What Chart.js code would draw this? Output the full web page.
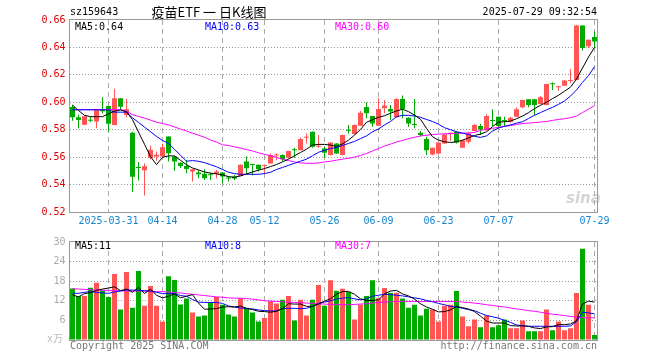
<!DOCTYPE html>
<html lang="zh-CN">
<head>
<meta charset="utf-8">
<title>疫苗ETF 日K线图</title>
<script src="https://cdn.jsdelivr.net/npm/chart.js@4.4.1/dist/chart.umd.min.js"></script>
<style>
  body { margin: 0; width: 660px; height: 360px; position: relative; overflow: hidden; background: #fff; font: 10px "DejaVu Sans Mono", monospace; color: #000; }
  canvas { position: absolute; left: 0; }
  #kline { top: 0; }
  #volume { top: 232px; }
  .txt { position: absolute; white-space: pre; line-height: 12px; }
</style>
</head>
<body>
<canvas id="kline" width="660" height="232"></canvas>
<canvas id="volume" width="660" height="128"></canvas>

<div class="txt" style="left:70px;top:6px">sz159643</div>
<div class="txt" style="left:139px;top:5px;width:140px;text-align:center;font:13px 'Noto Sans CJK SC';line-height:14px">疫苗ETF 一 日K线图</div>
<div class="txt" style="right:63px;top:6px">2025-07-29 09:32:54</div>
<div class="txt" style="left:75px;top:21px">MA5:0.64</div>
<div class="txt" style="left:205px;top:21px;color:#0000ff">MA10:0.63</div>
<div class="txt" style="left:335px;top:21px;color:#ff00ff">MA30:0.60</div>
<div class="txt" style="left:566px;top:189px;font:italic bold 15px 'DejaVu Sans';color:rgba(170,170,170,0.5)">sina</div>
<div class="txt" style="left:75px;top:240px">MA5:11</div>
<div class="txt" style="left:205px;top:240px;color:#0000ff">MA10:8</div>
<div class="txt" style="left:335px;top:240px;color:#ff00ff">MA30:7</div>
<div class="txt" style="left:47px;top:333px;color:#bbb">x万</div>
<div class="txt" style="left:70px;top:340px;color:#777">Copyright 2025 SINA.COM</div>
<div class="txt" style="right:63px;top:340px;color:#777">http://finance.sina.com.cn</div>

<script>
// trading days, 2025-03-21 .. 2025-07-29
const days = ['03-21','03-24','03-25','03-26','03-27','03-28','03-31',
  '04-01','04-02','04-03','04-07','04-08','04-09','04-10','04-11','04-14','04-15','04-16','04-17','04-18',
  '04-21','04-22','04-23','04-24','04-25','04-28','04-29','04-30',
  '05-06','05-07','05-08','05-09','05-12','05-13','05-14','05-15','05-16','05-19','05-20','05-21','05-22','05-23',
  '05-26','05-27','05-28','05-29','05-30',
  '06-03','06-04','06-05','06-06','06-09','06-10','06-11','06-12','06-13','06-16','06-17','06-18','06-19','06-20',
  '06-23','06-24','06-25','06-26','06-27','06-30',
  '07-01','07-02','07-03','07-04','07-07','07-08','07-09','07-10','07-11','07-14','07-15','07-16','07-17','07-18',
  '07-21','07-22','07-23','07-24','07-25','07-28','07-29']

const markedDays = ['03-31','04-14','04-28','05-12','05-26','06-09','06-23','07-07','07-29']
const markedText = ['2025-03-31','04-14','04-28','05-12','05-26','06-09','06-23','07-07','07-29']

const opens = [.5965,.589,.5836,.587,.586,.5945,.5973,.5834,.6029,.5907,
  .5777,.5525,.5504,.5593,.5605,.5605,.5751,.5605,.556,.5536,
  .5495,.5488,.5478,.547,.5478,.5488,.5446,.5458,.5463,.5568,
  .5544,.5544,.5536,.5554,.5612,.5615,.5595,.5653,.5651,.5741,
  .5785,.5676,.5663,.5615,.570,.5615,.5795,.5768,.5829,.5966,
  .590,.5829,.5956,.5951,.589,.6024,.5888,.5836,.5778,.5732,
  .5619,.5627,.570,.5771,.5785,.5668,.5712,.579,.5827,.5797,
  .5866,.5895,.5866,.5858,.5895,.5963,.6022,.6022,.5988,.598,
  .6134,.611,.612,.6156,.6163,.6559,.6408,.6476]
const highs = [.598,.591,.5902,.5895,.595,.6037,.5975,.6098,.6032,.6024,
  .5785,.5565,.5553,.5683,.5641,.5697,.5753,.5607,.5562,.558,
  .5514,.5507,.5512,.5488,.5507,.549,.5463,.547,.5546,.5605,
  .5546,.5546,.5543,.5627,.5627,.5622,.5646,.5668,.5744,.5773,
  .5787,.5761,.5675,.5709,.5702,.5763,.5834,.5839,.5937,.600,
  .5902,.6029,.6017,.598,.6029,.6049,.589,.6024,.579,.5749,
  .567,.5709,.5773,.5778,.579,.5726,.5785,.5841,.5841,.5912,
  .5949,.5897,.5895,.5895,.5963,.6019,.6024,.6024,.6046,.6136,
  .6144,.612,.6161,.6242,.6566,.6561,.6458,.6517]
const lows = [.5865,.581,.5832,.5855,.581,.592,.5785,.5832,.5944,.589,
  .5345,.543,.532,.5585,.5573,.5603,.5568,.550,.552,.5483,
  .5422,.5446,.5434,.5434,.5446,.541,.5422,.5434,.5461,.5483,
  .5468,.5495,.548,.5552,.5578,.557,.559,.5595,.565,.570,
  .5668,.5668,.5595,.5612,.5625,.5612,.5773,.5766,.5827,.5883,
  .5822,.5827,.592,.5871,.5888,.5883,.5822,.581,.5749,.5615,
  .5614,.562,.5698,.5717,.570,.5666,.570,.5788,.5761,.5795,
  .5827,.581,.5822,.5851,.5893,.5956,.5963,.5907,.5986,.5978,
  .609,.6085,.6118,.6139,.6161,.6378,.6395,.6395]
const closes = [.589,.587,.5898,.5866,.5946,.5935,.5843,.6029,.5968,.5949,
  .5457,.552,.5533,.5653,.5617,.5673,.5629,.5568,.5536,.5514,
  .5512,.5475,.5446,.5468,.5495,.5459,.5444,.5444,.5544,.5519,
  .5542,.5512,.5541,.5615,.5615,.5585,.5644,.565,.5732,.5744,
  .5676,.568,.5632,.5707,.5627,.5761,.5793,.5834,.5924,.592,
  .5846,.5951,.5976,.5932,.6024,.5951,.5846,.5834,.5761,.5651,
  .5668,.5707,.5766,.5773,.5707,.5724,.5773,.5834,.5802,.590,
  .5864,.5827,.5863,.5888,.5949,.6017,.598,.598,.6037,.6134,
  .6132,.6112,.6159,.6159,.6559,.6395,.6456,.6444]

const ma5 = [.598,.594,.5905,.5895,.5895,.5895,.5915,.5935,.5944,.5931,
  .5873,.5783,.5694,.5604,.5545,.5599,.5609,.5609,.5577,.5545,
  .5521,.5507,.5492,.5483,.5478,.547,.5458,.5453,.5463,.5478,
  .5492,.5505,.5517,.5531,.5546,.5566,.5585,.561,.5634,.5658,
  .5688,.5693,.5693,.5688,.5678,.5697,.5724,.5761,.5802,.5854,
  .5873,.589,.5902,.592,.5937,.5949,.5932,.5907,.5876,.581,
  .5749,.5724,.5712,.5707,.5712,.5724,.574,.5758,.5768,.5785,
  .5822,.5856,.5858,.5863,.588,.590,.5924,.5954,.5978,.600,
  .6027,.6051,.6081,.611,.617,.625,.633,.640]
const ma10 = [.5945,.5945,.5945,.5945,.5945,.5945,.5945,.5928,.5928,.5928,
  .5887,.5853,.5819,.5785,.5751,.5722,.570,.5657,.5614,.557,
  .5575,.557,.556,.5545,.553,.551,.549,.548,.5475,.5475,
  .5475,.5475,.548,.549,.551,.5525,.554,.5555,.557,.5585,
  .561,.5635,.565,.5663,.567,.5685,.570,.5715,.5735,.5755,
  .5785,.5805,.5835,.586,.5895,.5905,.5905,.590,.589,.5875,
  .586,.584,.5815,.580,.5785,.5775,.5765,.5752,.5744,.5755,
  .579,.5812,.5825,.5835,.5848,.5858,.5882,.5905,.5925,.5945,
  .5963,.5985,.601,.6045,.609,.6145,.6195,.626]
const ma30 = [.5947,.5947,.5947,.5947,.5947,.5947,.5947,.5947,.5947,.5935,
  .591,.5897,.5885,.587,.5855,.5845,.5835,.582,.5805,.579,
  .5775,.576,.5745,.5725,.571,.569,.5685,.5675,.5666,.5655,
  .5645,.5632,.562,.561,.5598,.5585,.5575,.5565,.5558,.5555,
  .5555,.5558,.5565,.557,.5578,.5585,.5592,.560,.5612,.5627,
  .5645,.5663,.568,.5695,.571,.5722,.5735,.5745,.5755,.576,
  .5765,.5768,.577,.5772,.5773,.5775,.5776,.578,.5795,.5805,
  .581,.5818,.5825,.583,.5838,.5845,.5848,.5852,.5856,.586,
  .5868,.5875,.588,.5888,.590,.5925,.595,.5975]

// volume in 万
const volumes = [15.8,13.5,13.5,16,17.5,15.2,13.2,20.2,9.3,20.8,
  9.9,21.1,10.5,16.5,10.5,5.7,19.5,18.4,10.9,12.7,
  8.4,7.2,7.5,11.6,13.2,10.8,7.8,7.2,12.8,9.9,
  8.4,5.7,6.7,11.9,11.2,12.3,13.5,6.0,12.3,7.5,
  12.3,16.8,10.5,18.3,15.1,15.7,14.7,6.3,10.8,13.5,
  18.3,12.8,15.9,14.5,14.5,12.7,9.9,10.8,7.5,9.6,
  9.3,5.7,10.5,10.8,15,7.2,4.2,6.3,3.9,7.5,
  3.9,4.5,6.3,3.6,3.6,6.0,2.7,2.7,2.7,9.3,
  3.0,5.7,3.0,3.6,14.4,27.9,10.8,1.5]
const volMa5 = [13.8,13.2,14.2,14.5,15.2,15.6,15.9,16.3,15.1,15.6,
  14.6,16.1,14.2,15.6,13.7,12.9,13.4,14.1,12.9,13.4,
  13.9,11.3,9.4,9.5,9.6,10.1,10.2,10.1,10.4,9.7,
  9.3,8.8,8.7,8.5,8.8,9.6,11.1,11.0,11.0,10.3,
  10.3,11.0,11.9,12.6,14.0,14.8,14.9,14.0,12.6,12.1,
  12.1,12.3,14.1,15.0,15.2,14.1,13.5,12.5,11.1,10.1,
  9.4,8.6,8.7,9.2,10.3,9.9,9.5,8.7,7.3,5.8,
  5.2,5.2,5.2,4.4,4.3,4.3,4.2,3.7,3.5,4.0,
  4.1,4.7,4.7,4.9,5.9,11.0,11.9,11.6]
const volMa10 = [14.3,14.3,14.6,14.8,14.6,14.4,14.3,14.7,15.0,15.3,
  15.3,15.2,15.1,15.0,14.6,14.2,14.2,14.2,13.6,13.4,
  12.4,11.6,11.5,11.5,11.5,11.2,10.4,10.1,9.8,9.6,
  9.5,9.2,9.0,8.9,8.9,9.6,9.7,9.7,9.6,9.7,
  10.3,11.2,11.6,12.0,12.5,12.8,13.0,12.6,12.3,12.6,
  13.4,13.7,14.0,13.9,13.7,13.5,13.2,12.9,12.6,12.1,
  11.7,11.2,10.8,10.3,10.1,9.7,9.3,9.0,8.2,7.5,
  7.1,6.7,6.0,5.4,4.6,4.4,4.2,4.2,4.2,4.2,
  4.2,4.2,4.2,4.3,5.6,8.5,8.3,8.0]
const volMa30 = [15.7,15.6,15.5,15.4,15.3,15.2,15.2,15.1,15.1,15.0,
  15.0,15.0,14.9,14.9,14.8,14.8,14.7,14.5,14.4,14.2,
  14.0,13.8,13.6,13.4,13.2,13.1,12.9,12.8,12.8,12.7,
  12.5,12.3,12.0,11.9,11.8,11.7,11.6,11.5,11.4,11.3,
  11.2,11.1,11.0,10.9,10.9,10.8,10.8,10.9,11.0,11.1,
  11.3,11.5,11.6,11.7,11.8,11.8,11.8,11.8,11.8,11.8,
  11.8,11.8,11.8,11.8,11.8,11.6,11.5,11.3,11.1,10.8,
  10.6,10.3,10.1,9.8,9.5,9.3,9.0,8.8,8.5,8.2,
  7.9,7.7,7.5,7.2,7.0,6.8,6.8,6.8]

const upColor = '#ff5555'
const downColor = '#00aa00'
const candleColors = opens.map((o, i) => closes[i] >= o ? upColor : downColor)

Chart.defaults.font.family = '"DejaVu Sans Mono", monospace'
Chart.defaults.font.size = 10

// gray box round the plot area
const framePlugin = {
  id: 'frame',
  afterDraw(chart) {
    const { ctx, chartArea: a } = chart
    ctx.save()
    ctx.strokeStyle = '#999'
    ctx.lineWidth = 1
    ctx.strokeRect(a.left, a.top - 0.5, a.right - a.left, a.bottom - a.top + 1)
    ctx.restore()
  }
}

function maLine(data, color, order) {
  return {
    type: 'line', data, order,
    borderColor: color, borderWidth: 1,
    pointRadius: 0, pointHoverRadius: 0, tension: 0, fill: false
  }
}

function xScale(showLabels) {
  return {
    type: 'category',
    offset: true,
    grid: {
      offset: false,
      drawTicks: false,
      color: ctx => markedDays.includes(days[ctx.index]) ? '#aaa' : 'rgba(0,0,0,0)'
    },
    border: { display: false, dash: [5, 4] },
    ticks: {
      display: showLabels,
      autoSkip: false,
      maxRotation: 0,
      padding: 3,
      color: '#1585d0',
      callback: (v, i) => {
        const k = markedDays.indexOf(days[i])
        return k >= 0 ? markedText[k] : ''
      }
    },
    afterFit: s => { s.height = 20 }
  }
}

function yGrid(min, max) {
  return {
    drawTicks: false,
    color: ctx => (ctx.tick.value <= min || ctx.tick.value >= max) ? 'rgba(0,0,0,0)' : '#999'
  }
}

const common = {
  responsive: false,
  animation: false,
  devicePixelRatio: 1,
  events: [],
  plugins: { legend: { display: false }, tooltip: { enabled: false } }
}

new Chart(document.getElementById('kline'), {
  type: 'bar',
  data: {
    labels: days,
    datasets: [
      maLine(ma5, '#000000', 0),
      maLine(ma10, '#0000ff', 1),
      maLine(ma30, '#ff00ff', 2),
      {
        data: opens.map((o, i) => [o, closes[i]]),
        backgroundColor: candleColors,
        barThickness: 5, minBarLength: 1, inflateAmount: 0,
        grouped: false, order: 3
      },
      {
        data: lows.map((l, i) => [l, highs[i]]),
        backgroundColor: candleColors,
        barThickness: 1, inflateAmount: 0,
        grouped: false, order: 4
      }
    ]
  },
  options: {
    ...common,
    layout: { padding: { top: 20, right: 62.5, left: 0, bottom: 0 } },
    scales: {
      x: xScale(true),
      y: {
        min: 0.52, max: 0.66,
        grid: yGrid(0.5201, 0.6599),
        border: { display: false, dash: [1, 2] },
        ticks: { stepSize: 0.02, padding: 4, color: '#e00000', callback: v => v.toFixed(2) },
        afterFit: s => { s.width = 69.5 }
      }
    }
  },
  plugins: [framePlugin]
})

new Chart(document.getElementById('volume'), {
  type: 'bar',
  data: {
    labels: days,
    datasets: [
      maLine(volMa5, '#000000', 0),
      maLine(volMa10, '#0000ff', 1),
      maLine(volMa30, '#ff00ff', 2),
      {
        data: volumes,
        backgroundColor: candleColors,
        barThickness: 5, inflateAmount: 0,
        grouped: false, order: 3
      }
    ]
  },
  options: {
    ...common,
    layout: { padding: { top: 8, right: 62.5, left: 0, bottom: 0 } },
    scales: {
      x: xScale(false),
      y: {
        min: 0, max: 30,
        grid: yGrid(0.01, 29.99),
        border: { display: false, dash: [1, 2] },
        ticks: { stepSize: 6, padding: 4, color: '#aaa', callback: v => v === 0 ? '' : v },
        afterFit: s => { s.width = 69.5 }
      }
    }
  },
  plugins: [framePlugin]
})
</script>
</body>
</html>
